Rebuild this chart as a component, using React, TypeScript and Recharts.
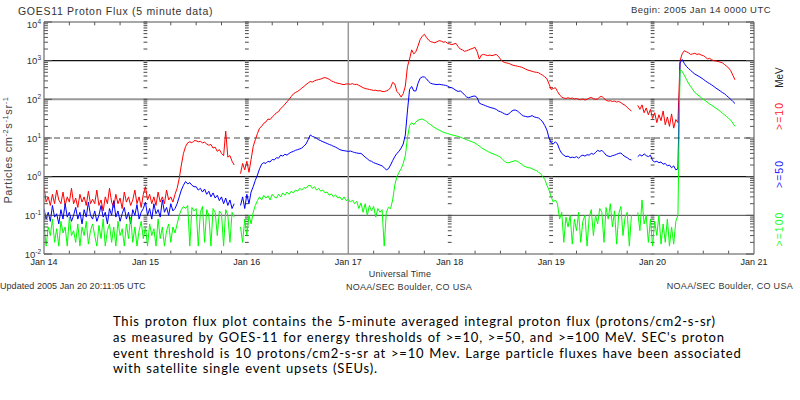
import React from 'react';
import { LineChart, Line, XAxis, YAxis, ReferenceLine } from 'recharts';

// ---------- categories / ticks ----------
const DAY_LABELS = ['Jan 14', 'Jan 15', 'Jan 16', 'Jan 17', 'Jan 18', 'Jan 19', 'Jan 20', 'Jan 21'];
const DAY_TICKS = [0, 24, 48, 72, 96, 120, 144, 168];
const DOTTED_DAYS = [24, 48, 96, 120, 144];
const SOLID_DAY = 72;
const SAMPLE_STEP_HOURS = 0.5; // samples read every 30 minutes from Jan 14 00:00 UTC
const DECADES = [0.01, 0.1, 1, 10, 100, 1000];
const MINOR_MULTS = [2, 3, 4, 5, 6, 7, 8, 9];
const X_MINOR_HOURS = [6, 12, 18, 30, 36, 42, 54, 60, 66, 78, 84, 90, 102, 108, 114, 126, 132, 138, 150, 156, 162];

// ---------- series (particles cm-2 s-1 sr-1), 30-minute steps ----------
const P10 = [
  0.55, 0.22, 0.3, 0.18, 0.35, 0.2, 0.45, 0.25, 0.2, 0.4, 0.18, 0.3, 0.22, 0.5, 0.2, 0.28, 0.16, 0.35, 0.22, 0.3, 0.18, 0.42, 0.2, 0.26,
  0.2, 0.45, 0.18, 0.25, 0.13, 0.3, 0.2, 0.5, 0.22, 0.16, 0.35, 0.2, 0.28, 0.15, 0.4, 0.22, 0.3, 0.18, 0.25, 0.45, 0.2, 0.3, 0.16, 0.35,
  0.55, 0.25, 0.35, 0.2, 0.3, 0.18, 0.4, 0.22, 0.3, 0.2, 0.45, 0.25, 0.3, 0.22, 0.35, 0.5, 0.9, 2, 4, 6, 7.5, 8, 7.5, 8.5,
  8.5, 8, 8.2, 7.5, 7.8, 7, 6.5, 6.8, 5.5, 5.8, 4.5, 5, 4, 3.5, 15, 3.2, 3.5, 2.5, 2, null, null, 1.2, 2.2, 1.5,
  2.5, 1.3, 2.8, 6, 9, 13, 18, 20, 24, 26, 31, 30, 35, 39, 45, 48, 58, 64, 75, 86, 100, 118, 138, 150,
  160, 175, 195, 215, 240, 265, 290, 280, 300, 315, 325, 335, 355, 365, 350, 330, 300, 285, 270, 260, 255, 245, 240, 250,
  250, 245, 255, 240, 245, 230, 215, 200, 190, 185, 180, 175, 170, 172, 165, 168, 160, 158, 165, 175, 200, 275, 250, 160,
  140, 115, 140, 220, 700, 1100, 1900, 1500, 1700, 2400, 3500, 4300, 4800, 4000, 3400, 3100, 3000, 2900, 3100, 3300, 3200, 3000, 3100, 2800,
  2700, 2600, 2700, 2800, 2300, 2000, 1900, 1750, 1800, 1900, 2000, 2100, 2200, 1700, 1100, 1400, 1450, 1400, 1350, 1400, 1350, 1400, 1450, 1300,
  1100, 950, 900, 870, 850, 800, 760, 740, 720, 700, 680, 640, 600, 570, 550, 530, 510, 500, 490, 450, 420, 380, 340, 250,
  180, 190, 200, 160, 130, 115, 108, 105, 110, 105, 108, 102, 105, 100, 98, 102, 96, 100, 108, 112, 104, 100, 102, 115,
  120, 105, 95, 90, 92, 88, 90, 85, 88, 82, 75, 70, 62, 55, 50, null, null, 70, 55, 72, 45, 60, 40, 55,
  32, 45, 25, 40, 28, 50, 22, 35, 20, 42, 18, 30, 25, 1000, 1500, 1800, 1700, 1600, 1450, 1500, 1550, 1450, 1500, 1400,
  1350, 1250, 1100, 1150, 1050, 1000, 980, 950, 920, 880, 800, 720, 650, 550, 420, 320,
];

const P50 = [
  0.15, 0.08, 0.12, 0.07, 0.18, 0.09, 0.11, 0.06, 0.14, 0.08, 0.2, 0.09, 0.12, 0.07, 0.1, 0.16, 0.08, 0.12, 0.06, 0.14, 0.09, 0.22, 0.1, 0.08,
  0.13, 0.07, 0.1, 0.18, 0.09, 0.12, 0.06, 0.15, 0.1, 0.24, 0.09, 0.13, 0.07, 0.11, 0.16, 0.08, 0.12, 0.06, 0.14, 0.1, 0.19, 0.08, 0.12, 0.15,
  0.22, 0.1, 0.15, 0.08, 0.2, 0.11, 0.14, 0.09, 0.25, 0.12, 0.16, 0.1, 0.2, 0.13, 0.15, 0.2, 0.3, 0.45, 0.6, 0.75, 0.65, 0.7, 0.6, 0.55,
  0.55, 0.45, 0.5, 0.4, 0.48, 0.35, 0.42, 0.3, 0.38, 0.28, 0.33, 0.24, 0.3, 0.2, 0.28, 0.18, 0.25, 0.15, 0.2, null, null, 0.18, 0.3, 0.15,
  0.35, 0.2, 0.4, 0.55, 0.8, 1.1, 1.6, 2.1, 2.3, 2.2, 2.5, 2.4, 2.8, 2.7, 3.1, 3.0, 3.6, 3.4, 3.8, 3.6, 4.0, 4.3, 4.5, 4.8,
  5, 5.2, 5.5, 6.2, 7, 9, 12, 11, 10.5, 9.8, 9, 8.5, 8, 7.6, 7.2, 6.8, 6.5, 6.1, 5.8, 5.4, 5, 4.8, 4.7, 4.6,
  4.5, 4.6, 4.4, 4.2, 4.1, 4.0, 4.0, 3.6, 3.2, 2.9, 2.6, 2.5, 2.3, 2.2, 2.1, 2.0, 1.9, 1.7, 1.5, 1.6, 2.0, 2.6, 3.3, 4.0,
  4.5, 5.5, 7, 12, 50, 180, 215, 165, 165, 260, 350, 380, 380, 340, 290, 260, 250, 245, 240, 245, 240, 235, 230, 220,
  205, 200, 185, 170, 160, 165, 150, 130, 115, 110, 115, 120, 122, 110, 80, 75, 72, 68, 65, 62, 60, 58, 55, 50,
  48, 45, 42, 40, 42, 48, 52, 53, 50, 45, 40, 37, 36, 35, 36, 38, 35, 34, 33, 30, 26, 21, 16, 10,
  7.5, 7, 8, 7, 5, 4, 3.6, 3.3, 3.4, 3.1, 3.2, 3.1, 3.3, 3.0, 3.4, 3.6, 3.4, 3.7, 3.6, 4.0, 3.8, 4.2, 4.8, 4.5,
  4.8, 4.2, 3.6, 3.4, 3.3, 3.5, 3.6, 3.8, 4.0, 4.1, 3.6, 3.3, 3.1, 2.8, 2.7, null, null, 3.3, 3.7, 3.4, 3.9, 3.5, 3.3, 3.6,
  2.6, 2.4, 2.5, 2.3, 2.4, 2.1, 2.2, 1.9, 2.0, 1.7, 1.9, 1.5, 1.6, 870, 1070, 850, 710, 630, 560, 500, 450, 420, 390, 360,
  330, 300, 275, 255, 235, 215, 195, 180, 165, 150, 140, 125, 112, 100, 88, 78,
];

const P100 = [
  0.06, 0.016, 0.05, 0.03, 0.08, 0.02, 0.045, 0.016, 0.07, 0.035, 0.05, 0.016, 0.09, 0.03, 0.04, 0.02, 0.06, 0.016, 0.05, 0.03, 0.07, 0.018, 0.04, 0.06,
  0.03, 0.016, 0.055, 0.025, 0.08, 0.016, 0.04, 0.06, 0.02, 0.05, 0.016, 0.07, 0.03, 0.045, 0.016, 0.06, 0.025, 0.09, 0.02, 0.05, 0.016, 0.04, 0.07, 0.025,
  0.05, 0.016, 0.06, 0.03, 0.045, 0.016, 0.08, 0.025, 0.05, 0.016, 0.04, 0.06, 0.02, 0.05, 0.035, 0.06, 0.1, 0.14, 0.17, 0.15, 0.18, 0.016, 0.16, 0.13,
  0.15, 0.016, 0.12, 0.17, 0.02, 0.14, 0.1, 0.016, 0.15, 0.12, 0.03, 0.13, 0.11, 0.016, 0.14, 0.1, 0.02, 0.12, 0.09, null, null, 0.05, 0.02, 0.08,
  0.03, 0.1, 0.06, 0.12, 0.18, 0.24, 0.3, 0.25, 0.33, 0.28, 0.32, 0.25, 0.35, 0.3, 0.28, 0.35, 0.3, 0.38, 0.33, 0.4, 0.35, 0.42, 0.38, 0.45,
  0.42, 0.5, 0.45, 0.52, 0.5, 0.58, 0.6, 0.5, 0.55, 0.45, 0.5, 0.42, 0.45, 0.38, 0.4, 0.33, 0.36, 0.3, 0.34, 0.28, 0.3, 0.25, 0.3, 0.24,
  0.26, 0.22, 0.25, 0.2, 0.23, 0.15, 0.21, 0.12, 0.2, 0.1, 0.18, 0.13, 0.17, 0.09, 0.15, 0.12, 0.14, 0.016, 0.12, 0.16, 0.15, 0.25, 0.6, 1.0,
  1.3, 1.6, 2.2, 3.5, 10, 21, 25, 22, 26, 29, 30, 31, 29, 27, 24, 22, 20, 18.5, 17, 16, 15, 14, 13.5, 13,
  12.5, 12, 11.8, 11.3, 11, 10.5, 10, 9.5, 9, 8.6, 8.2, 7.8, 7.4, 6.8, 6.2, 5.6, 5.2, 4.8, 4.5, 4.2, 4.0, 3.8, 3.6, 3.4,
  3.2, 2.8, 2.5, 2.3, 2.3, 2.4, 2.5, 2.6, 2.5, 2.3, 2.1, 1.9, 1.8, 1.7, 1.7, 1.6, 1.5, 1.45, 1.3, 1.2, 1.0, 0.85, 0.6, 0.45,
  0.3, 0.22, 0.25, 0.2, 0.08, 0.12, 0.02, 0.09, 0.05, 0.1, 0.018, 0.08, 0.04, 0.12, 0.02, 0.07, 0.1, 0.016, 0.09, 0.14, 0.03, 0.1, 0.06, 0.15,
  0.12, 0.02, 0.16, 0.08, 0.2, 0.05, 0.13, 0.018, 0.11, 0.17, 0.03, 0.09, 0.12, 0.016, 0.1, null, null, 0.12, 0.04, 0.25, 0.06, 0.1, 0.02, 0.08,
  0.016, 0.07, 0.03, 0.1, 0.018, 0.06, 0.02, 0.08, 0.016, 0.05, 0.018, 0.07, 0.1, 580, 530, 420, 330, 260, 215, 180, 150, 135, 123, 110,
  100, 92, 83, 76, 70, 64, 59, 54, 49, 44, 40, 36, 32, 29, 24, 20,
];

const CAPTION_LINES = [
  'This proton flux plot contains the 5-minute averaged integral proton flux (protons/cm2-s-sr)',
  "as measured by GOES-11 for energy thresholds of >=10, >=50, and >=100 MeV. SEC's proton",
  'event threshold is 10 protons/cm2-s-sr at >=10 Mev. Large particle fluxes have been associated',
  'with satellite single event upsets (SEUs).',
];

// ---------- derived tables ----------
const ROWS = P10.map((v, i) => ({ t: i * SAMPLE_STEP_HOURS, p10: v, p50: P50[i], p100: P100[i] }));

const Y_TICKS: number[] = [];
DECADES.forEach((d) => {
  Y_TICKS.push(d);
  MINOR_MULTS.forEach((m) => Y_TICKS.push(Number((d * m).toPrecision(6))));
});
Y_TICKS.push(10000);

const isMajor = (v: number) => {
  const e = Math.log10(v);
  return Math.abs(e - Math.round(e)) < 1e-9;
};

const FONT = "'Liberation Sans', Arial, sans-serif";
const AXIS_GRAY = '#8a8a8a';

const LeftTick = (props: any) => {
  const { x, y, payload } = props;
  const v = payload.value as number;
  const major = isMajor(v);
  const e = Math.round(Math.log10(v));
  const base = e === 4 ? y + 5.5 : y + 3.5;
  return (
    <g>
      <line x1={x} x2={x + (major ? 8 : 4)} y1={y} y2={y} stroke="#555" strokeWidth={1} />
      {major && (
        <text x={x - 3} y={base} textAnchor="end" fontSize={9.5} fontFamily={FONT} fill="#333">
          10<tspan dy={-4} fontSize={6.5}>{e}</tspan>
        </text>
      )}
    </g>
  );
};

const RightTick = (props: any) => {
  const { x, y, payload } = props;
  const major = isMajor(payload.value as number);
  return <line x1={x} x2={x - (major ? 8 : 4)} y1={y} y2={y} stroke="#555" strokeWidth={1} />;
};

const dayTickSegments = () => {
  const out: React.ReactNode[] = [];
  DOTTED_DAYS.forEach((d) => {
    Y_TICKS.forEach((v) => {
      out.push(
        <ReferenceLine
          key={`dt-${d}-${v}`}
          yAxisId="l"
          segment={[{ x: d - 0.45, y: v }, { x: d + 0.45, y: v }]}
          stroke="#444"
          strokeWidth={1}
          ifOverflow="visible"
        />
      );
    });
  });
  return out;
};

const xMinorSegments = () => {
  const out: React.ReactNode[] = [];
  X_MINOR_HOURS.forEach((h) => {
    out.push(
      <ReferenceLine key={`xb-${h}`} yAxisId="l" segment={[{ x: h, y: 0.01 }, { x: h, y: 0.0122 }]} stroke="#555" strokeWidth={1} ifOverflow="visible" />
    );
    out.push(
      <ReferenceLine key={`xt-${h}`} yAxisId="l" segment={[{ x: h, y: 10000 }, { x: h, y: 8200 }]} stroke="#555" strokeWidth={1} ifOverflow="visible" />
    );
  });
  return out;
};

export default function App() {
  return (
    <div style={{ position: 'absolute', left: 0, top: 0, width: 800, height: 400, background: '#fff', overflow: 'hidden' }}>
      <div style={{ position: 'absolute', left: 0, top: 0 }}>
        <LineChart width={800} height={300} data={ROWS} margin={{ top: 22, right: 0, bottom: 16, left: 0 }} style={{ fontFamily: FONT }}>
          <XAxis
            dataKey="t"
            type="number"
            domain={[0, 168]}
            ticks={DAY_TICKS}
            interval={0}
            allowDataOverflow
            tickFormatter={(v: number) => DAY_LABELS[Math.round(v / 24)]}
            tick={{ fontSize: 9, fill: '#222', fontFamily: FONT }}
            tickLine={false}
            tickSize={0}
            tickMargin={5}
            axisLine={{ stroke: AXIS_GRAY, strokeWidth: 1.5 }}
            height={30}
          />
          <YAxis
            yAxisId="l"
            type="number"
            scale="log"
            domain={[0.01, 10000]}
            allowDataOverflow
            ticks={Y_TICKS}
            interval={0}
            tick={(p: any) => <LeftTick {...p} />}
            tickLine={false}
            tickSize={0}
            tickMargin={0}
            axisLine={{ stroke: AXIS_GRAY, strokeWidth: 1.5 }}
            width={44}
          />
          <YAxis
            yAxisId="r"
            orientation="right"
            type="number"
            scale="log"
            domain={[0.01, 10000]}
            allowDataOverflow
            ticks={Y_TICKS}
            interval={0}
            tick={(p: any) => <RightTick {...p} />}
            tickLine={false}
            tickSize={0}
            tickMargin={0}
            axisLine={{ stroke: AXIS_GRAY, strokeWidth: 1.5 }}
            width={46}
          />
          <ReferenceLine yAxisId="l" y={10000} stroke={AXIS_GRAY} strokeWidth={1.5} ifOverflow="visible" />
          <ReferenceLine yAxisId="l" y={1000} stroke="#111" strokeWidth={1.3} />
          <ReferenceLine yAxisId="l" y={100} stroke="#999" strokeWidth={2} />
          <ReferenceLine yAxisId="l" y={10} stroke="#888" strokeWidth={1.3} strokeDasharray="6 4" />
          <ReferenceLine yAxisId="l" y={1} stroke="#111" strokeWidth={1.3} />
          <ReferenceLine yAxisId="l" y={0.1} stroke="#444" strokeWidth={1} />
          <ReferenceLine yAxisId="l" x={SOLID_DAY} stroke="#999" strokeWidth={1.5} />
          {dayTickSegments()}
          {xMinorSegments()}
          <Line yAxisId="l" type="linear" dataKey="p10" stroke="#ff0000" strokeWidth={1} dot={false} isAnimationActive={false} connectNulls={false} />
          <Line yAxisId="l" type="linear" dataKey="p50" stroke="#0000ff" strokeWidth={1} dot={false} isAnimationActive={false} connectNulls={false} />
          <Line yAxisId="l" type="linear" dataKey="p100" stroke="#00ff00" strokeWidth={1} dot={false} isAnimationActive={false} connectNulls={false} />
        </LineChart>
      </div>
      <svg width={800} height={400} style={{ position: 'absolute', left: 0, top: 0, pointerEvents: 'none' }}>
        <g fontFamily={FONT} fill="#333">
          <text x={18} y={14.5} fontSize={10.5} letterSpacing={0.7}>GOES11 Proton Flux (5 minute data)</text>
          <text x={771} y={12.7} fontSize={9.5} letterSpacing={0.45} textAnchor="end">Begin: 2005 Jan 14 0000 UTC</text>
          <text x={400} y={277} fontSize={9} letterSpacing={0.2} textAnchor="middle">Universal Time</text>
          <text x={0} y={289} fontSize={9} letterSpacing={0.05}>Updated 2005 Jan 20 20:11:05 UTC</text>
          <text x={409} y={289.5} fontSize={9} letterSpacing={0.3} textAnchor="middle">NOAA/SEC Boulder, CO USA</text>
          <text x={793} y={289} fontSize={9} letterSpacing={0.3} textAnchor="end">NOAA/SEC Boulder, CO USA</text>
          <text transform="translate(11.5,150) rotate(-90)" textAnchor="middle" fontSize={11} letterSpacing={0.6} fill="#444">
            Particles  cm<tspan dy={-4} fontSize={7.5}>-2</tspan>
            <tspan dy={4}>s</tspan>
            <tspan dy={-4} fontSize={7.5}>-1</tspan>
            <tspan dy={4}>sr</tspan>
            <tspan dy={-4} fontSize={7.5}>-1</tspan>
          </text>
          <text transform="translate(782.5,77.5) rotate(-90)" textAnchor="middle" fontSize={10} fill="#222">MeV</text>
          <text transform="translate(782.5,116) rotate(-90)" textAnchor="middle" fontSize={10.5} letterSpacing={1} fill="#ff2020">{'>=10'}</text>
          <text transform="translate(782.5,174) rotate(-90)" textAnchor="middle" fontSize={10.5} letterSpacing={1} fill="#2020ff">{'>=50'}</text>
          <text transform="translate(782.5,229) rotate(-90)" textAnchor="middle" fontSize={10.5} letterSpacing={1} fill="#20ff20">{'>=100'}</text>
        </g>
        <g fontFamily="Lato, 'Open Sans', sans-serif" fontSize={13} letterSpacing={0.8} wordSpacing={0.8} fill="#000">
          {CAPTION_LINES.map((line, i) => (
            <text key={i} x={113} y={326 + i * 15.8}>{line}</text>
          ))}
        </g>
      </svg>
    </div>
  );
}
